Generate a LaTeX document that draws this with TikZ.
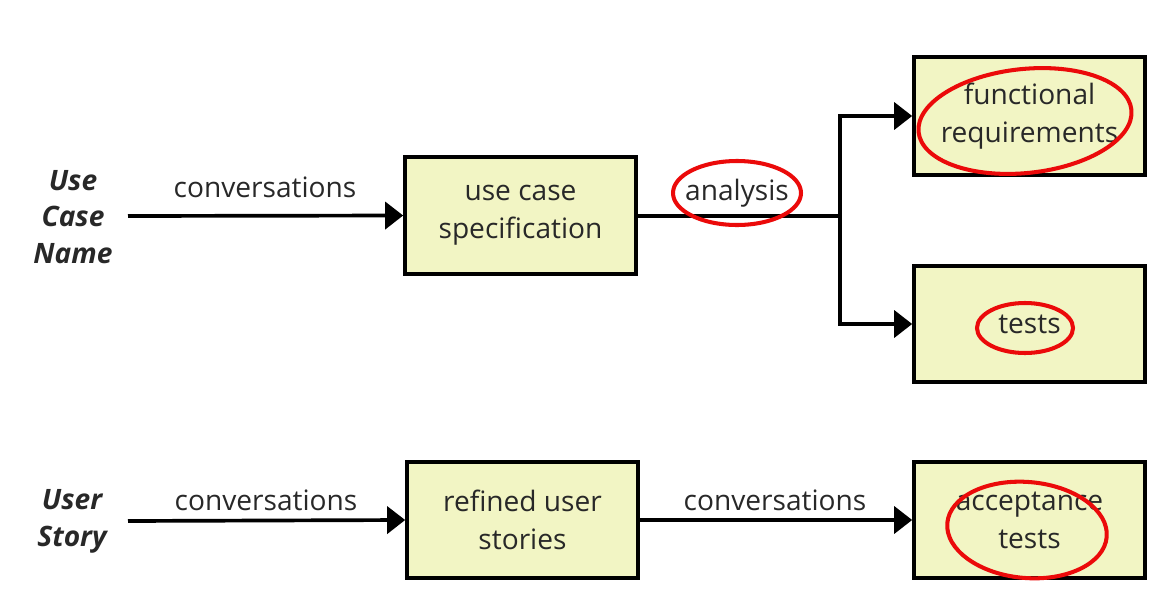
\documentclass[tikz,border=0pt]{standalone}
\usepackage{fontspec}
\setmainfont{Open Sans}
\usetikzlibrary{arrows.meta,shapes.geometric}
\definecolor{boxfill}{RGB}{242,245,196}
\definecolor{annot}{RGB}{235,10,10}
\definecolor{ink}{RGB}{40,40,40}
\begin{document}
\begin{tikzpicture}[x=0.02cm,y=-0.02cm,
  stepbox/.style={draw=black,line width=2.1pt,fill=boxfill,minimum width=4.62cm,minimum height=2.33cm,align=center,font=\fontsize{16}{21.5}\selectfont,text=ink,inner sep=0pt},
  flow/.style={line width=2.1pt,-{Triangle[length=0.36cm,width=0.54cm]}},
  plain/.style={line width=2.1pt},
  lbl/.style={font=\fontsize{16}{21}\selectfont,text=ink,inner sep=0pt},
  side/.style={font=\fontsize{16}{21}\selectfont\itshape\bfseries,text=ink,align=center,inner sep=0pt},
  ring/.style={draw=annot,line width=2.3pt}]
\useasboundingbox (0,0) rectangle (1160,595);
\node[stepbox] (ucs) at (520.5,215.5) {\raisebox{-4pt}{use case}\\\raisebox{-4pt}{specification}};
\node[stepbox,minimum height=2.36cm] (fr) at (1029.5,116) {\raisebox{-2pt}{functional}\\\raisebox{-2pt}{requirements}};
\node[stepbox] (tests) at (1029.5,324) {tests};
\node[stepbox] (rus) at (522.5,520) {refined user\\stories};
\node[stepbox] (at) at (1029.5,520) {acceptance\\tests};
\node[side] (ucn) at (73,217) {Use\\Case\\Name};
\node[side] (us) at (72,521) {User\\Story};
\coordinate (s1) at (128,216);
\coordinate (s2) at (128,521);
\coordinate (j) at (840,216);
\draw[flow] (s1) -- (ucs.west);
\draw[plain] (ucs.east |- j) -- (j);
\draw[flow] (j) |- (fr.west);
\draw[flow] (j) |- (tests.west);
\draw[flow] (s2) -- (rus.west);
\draw[flow] (rus.east) -- (at.west);
\node[lbl] (c1) at (265,187) {conversations};
\node[lbl] (an) at (737,193) {analysis};
\node[lbl] (c2) at (266,500) {conversations};
\node[lbl] (c3) at (775,500) {conversations};
\draw[ring] (737,193) ellipse [x radius=64,y radius=32];
\draw[ring,rotate around={6:(1025,121)}] (1025,121) ellipse [x radius=107,y radius=52];
\draw[ring] (1025,328) ellipse [x radius=48,y radius=25];
\draw[ring,rotate around={-5:(1027,530)}] (1027,530) ellipse [x radius=80,y radius=48];
\end{tikzpicture}
\end{document}
